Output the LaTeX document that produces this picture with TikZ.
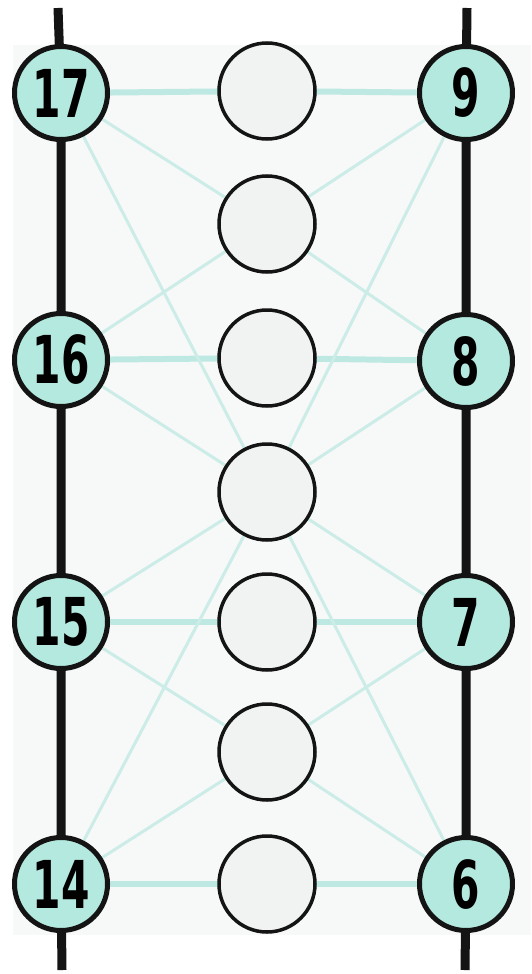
\documentclass[tikz,border=0pt]{standalone}
\usepackage{fontspec}
\newfontfamily\numfont{DejaVu Sans}
\pgfdeclarelayer{bg}
\pgfdeclarelayer{edges}
\pgfsetlayers{bg,edges,main}
\definecolor{tealfill}{HTML}{B4E9DF}
\definecolor{midfill}{HTML}{F1F3F3}
\definecolor{panel}{HTML}{F7F8F8}
\definecolor{hcol}{HTML}{BDE9E2}
\definecolor{dcol}{HTML}{CCEDE7}
\definecolor{ink}{HTML}{141414}
\begin{document}
\begin{tikzpicture}[x=1pt,y=-1pt,
  side/.style={circle,draw=ink,line width=5pt,fill=tealfill,minimum size=93pt,inner sep=0pt,
    font=\numfont\bfseries\fontsize{66}{66}\selectfont},
  mid/.style={circle,draw=ink,line width=3.5pt,fill=midfill,minimum size=96pt,inner sep=0pt},
  hline/.style={line width=6pt,draw=hcol},
  dline/.style={line width=3pt,draw=dcol},
  rail/.style={line width=9pt,draw=ink}]
\useasboundingbox (0,0) rectangle (531,974);
\begin{pgfonlayer}{bg}
  \fill[panel] (13,45) rectangle (531,935);
\end{pgfonlayer}
% side nodes
\node[side] (n17) at (61,93)  {\scalebox{0.62}[1]{17}};
\node[side] (n16) at (61,360) {\scalebox{0.62}[1]{16}};
\node[side] (n15) at (61,622) {\scalebox{0.62}[1]{15}};
\node[side] (n14) at (61,884) {\scalebox{0.62}[1]{14}};
\node[side] (n9)  at (466,93)  {\scalebox{0.62}[1]{9}};
\node[side] (n8)  at (466,361) {\scalebox{0.62}[1]{8}};
\node[side] (n7)  at (466,622) {\scalebox{0.62}[1]{7}};
\node[side] (n6)  at (466,884) {\scalebox{0.62}[1]{6}};
% middle nodes
\node[mid] (m1) at (267,91)  {};
\node[mid] (m2) at (267,224) {};
\node[mid] (m3) at (267,358) {};
\node[mid] (m4) at (267,492) {};
\node[mid] (m5) at (267,622) {};
\node[mid] (m6) at (267,752) {};
\node[mid] (m7) at (267,884) {};
% rail ends
\coordinate (lt) at (58,8);
\coordinate (lb) at (62,970);
\coordinate (rt) at (467,8);
\coordinate (rb) at (465,970);
\begin{pgfonlayer}{edges}
  % horizontal links
  \foreach \a/\m/\b in {n17/m1/n9, n16/m3/n8, n15/m5/n7, n14/m7/n6}{
    \draw[hline] (\a.center) -- (\m.center) -- (\b.center);
  }
  % diagonal links
  \foreach \a/\m in {n17/m2, n16/m2, n9/m2, n8/m2,
                     n17/m4, n16/m4, n15/m4, n14/m4, n9/m4, n8/m4, n7/m4, n6/m4,
                     n15/m6, n14/m6, n7/m6, n6/m6}{
    \draw[dline] (\a.center) -- (\m.center);
  }
  % rails
  \draw[rail] (lt) -- (n17.center) -- (n16.center) -- (n15.center) -- (n14.center) -- (lb);
  \draw[rail] (rt) -- (n9.center) -- (n8.center) -- (n7.center) -- (n6.center) -- (rb);
\end{pgfonlayer}
\end{tikzpicture}
\end{document}
